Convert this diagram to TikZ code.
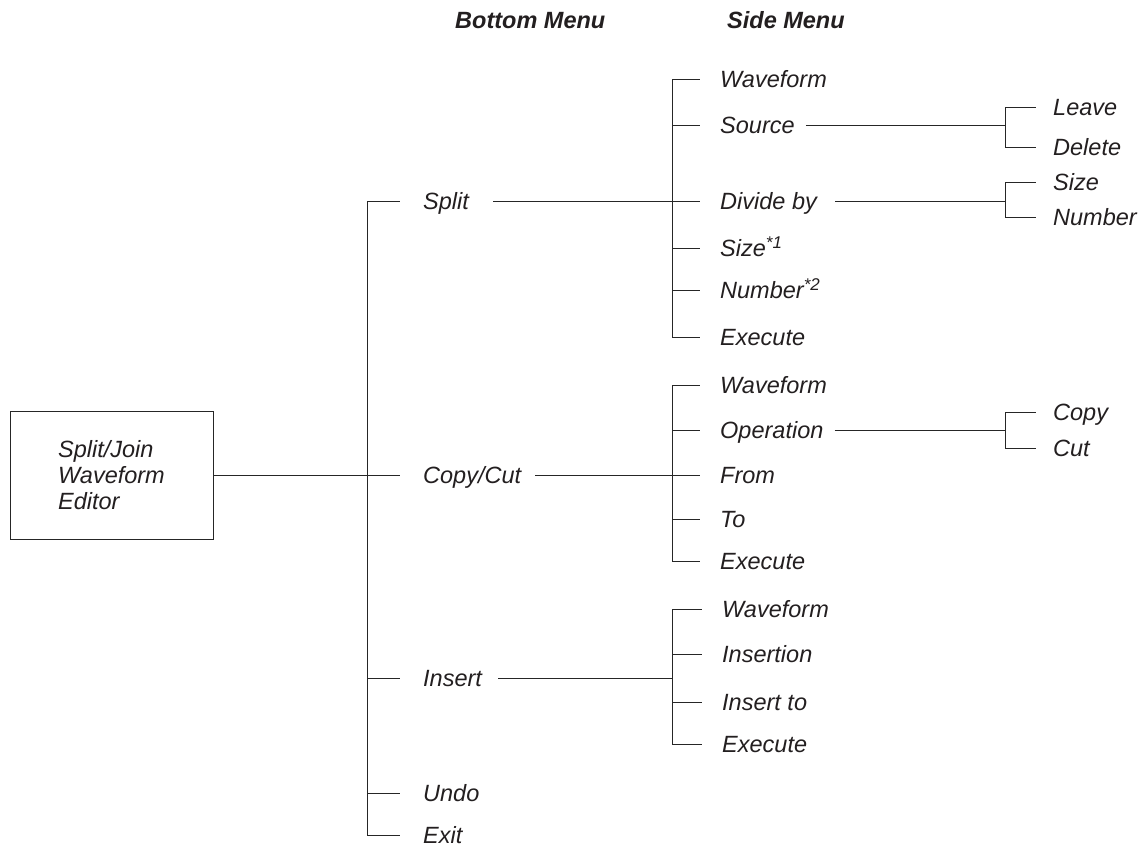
\documentclass[tikz,border=0pt]{standalone}
\usepackage{fontspec}
\setmainfont{Liberation Sans}
\definecolor{ink}{HTML}{231F20}
\newcommand{\lbfont}{\fontsize{23.5}{26}\selectfont\itshape}
\newcommand{\hdfont}{\fontsize{23.5}{26}\selectfont\bfseries\itshape}
\newcommand{\supr}[1]{\raisebox{8.5pt}{\fontsize{17}{17}\selectfont #1}}
\begin{document}
\begin{tikzpicture}[x=1pt,y=-1pt,
  lbl/.style={anchor=west, inner sep=0pt, text height=17pt, text depth=0pt, font=\lbfont, text=ink},
  hd/.style={anchor=base west, inner sep=0pt, font=\hdfont, text=ink},
  ln/.style={line width=0.9pt, draw=black!85},
  rootbox/.style={draw=black!85, line width=0.9pt, minimum width=203pt, minimum height=128pt, inner sep=0pt, align=left, font=\lbfont, text=ink}]
\useasboundingbox (0,0) rectangle (1145,851);

% headers
\node[hd] (hb) at (455,29) {Bottom Menu};
\node[hd] (hs) at (727,29) {Side Menu};

% root
\node[rootbox] (root) at (111.5,475) {Split/Join\\Waveform\\Editor};

% trunk coordinates
\coordinate (T) at (367,0);
\coordinate (S) at (672,0);
\coordinate (R) at (1005,0);

% bottom menu
\node[lbl] (split) at (423,201) {Split};
\node[lbl] (cc)    at (423,475) {Copy/Cut};
\node[lbl] (ins)   at (423,678) {Insert};
\node[lbl] (undo)  at (423,793) {Undo};
\node[lbl] (exit)  at (423,835) {Exit};

% split side menu
\node[lbl] (s1) at (720,79)  {Waveform};
\node[lbl] (s2) at (720,125) {Source};
\node[lbl] (s3) at (720,201) {Divide by};
\node[lbl] (s4) at (720,248) {Size\supr{*1}};
\node[lbl] (s5) at (720,290) {Number\supr{*2}};
\node[lbl] (s6) at (720,337) {Execute};

\node[lbl] (leave)  at (1053,107) {Leave};
\node[lbl] (delete) at (1053,147) {Delete};
\node[lbl] (dsize)  at (1053,182) {Size};
\node[lbl] (dnum)   at (1053,217) {Number};

% copy/cut side menu
\node[lbl] (c1) at (720,385) {Waveform};
\node[lbl] (c2) at (720,430) {Operation};
\node[lbl] (c3) at (720,475) {From};
\node[lbl] (c4) at (720,519) {To};
\node[lbl] (c5) at (720,561) {Execute};

\node[lbl] (copy) at (1053,412) {Copy};
\node[lbl] (cut)  at (1053,448) {Cut};

% insert side menu
\node[lbl] (i1) at (722,609) {Waveform};
\node[lbl] (i2) at (722,654) {Insertion};
\node[lbl] (i3) at (722,702) {Insert to};
\node[lbl] (i4) at (722,744) {Execute};

% trunk
\draw[ln] (T |- split.west) -- (T |- exit.west);
\foreach \n in {split,cc,ins,undo,exit}
  \draw[ln] (T |- \n.west) -- ([xshift=-23pt]\n.west);
\draw[ln] (root.east |- cc.west) -- (T |- cc.west);

% bottom -> side
\draw[ln] ([xshift=24pt]split.east) -- (S |- split.west);
\draw[ln] ([xshift=14pt]cc.east) -- (S |- cc.west);
\draw[ln] ([xshift=16pt]ins.east) -- (S |- ins.west);

% side verticals
\draw[ln] (S |- s1.west) -- (S |- s6.west);
\draw[ln] (S |- c1.west) -- (S |- c5.west);
\draw[ln] (S |- i1.west) -- (S |- i4.west);
\foreach \n in {s1,s2,s3,s4,s5,s6,c1,c2,c3,c4,c5}
  \draw[ln] (S |- \n.west) -- ([xshift=-20pt]\n.west);
\foreach \n in {i1,i2,i3,i4}
  \draw[ln] (S |- \n.west) -- ([xshift=-20pt]\n.west);

% side -> sub
\draw[ln] ([xshift=11pt]s2.east) -- (R |- s2.west);
\draw[ln] ([xshift=18pt]s3.east) -- (R |- s3.west);
\draw[ln] ([xshift=11pt]c2.east) -- (R |- c2.west);
\draw[ln] (R |- leave.west) -- (R |- delete.west);
\draw[ln] (R |- dsize.west) -- (R |- dnum.west);
\draw[ln] (R |- copy.west) -- (R |- cut.west);
\foreach \n in {leave,delete,dsize,dnum,copy,cut}
  \draw[ln] (R |- \n.west) -- ([xshift=-17pt]\n.west);
\end{tikzpicture}
\end{document}
